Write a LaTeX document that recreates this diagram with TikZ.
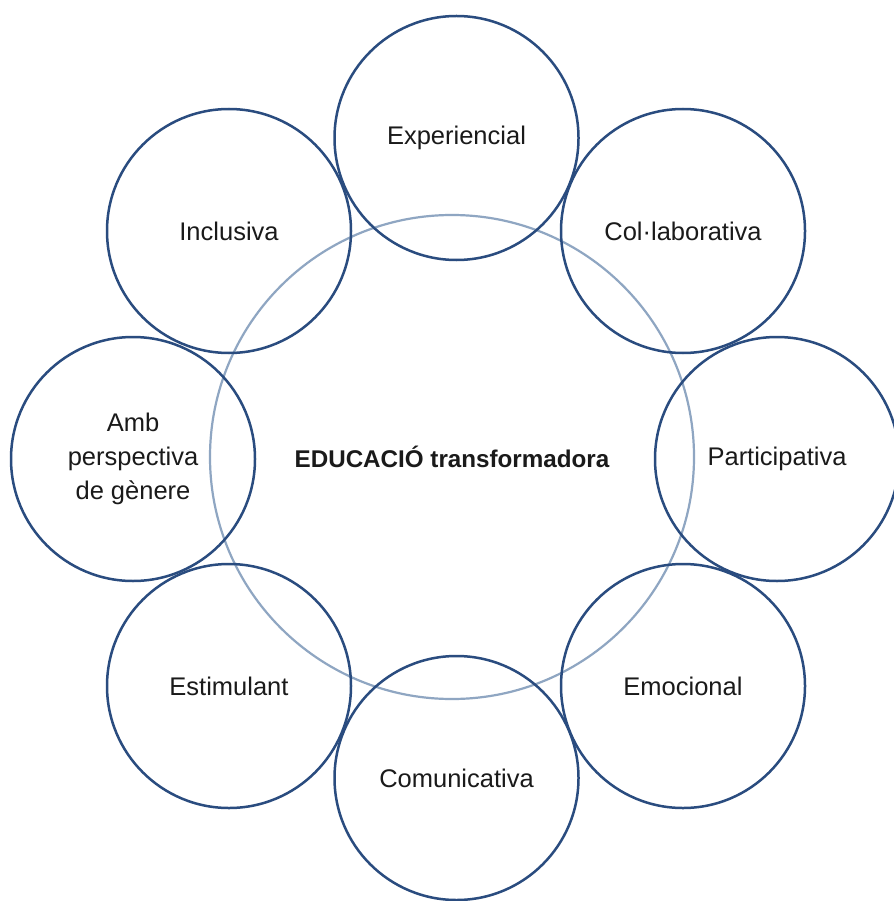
\documentclass[tikz,border=0pt]{standalone}
\usepackage{fontspec}
\setmainfont{Liberation Sans}
\definecolor{navy}{HTML}{2A4C7F}
\definecolor{pale}{HTML}{8FA6C2}
\definecolor{txt}{HTML}{1A1A1A}
\begin{document}
\begin{tikzpicture}[x=1pt,y=-1pt,
  outer/.style={circle,draw=navy,line width=2.5pt,minimum size=244pt,inner sep=0pt,
     text=txt,font=\fontsize{25.5}{34}\selectfont,align=center},
  inner/.style={circle,draw=pale,line width=2.2pt,minimum size=484pt,inner sep=0pt,
     text=txt,font=\bfseries\fontsize{24.2}{30}\selectfont}]
\useasboundingbox (0,0) rectangle (893,901);
\fill[white] (0,0) rectangle (893,901);
\node[inner] (c) at (452,457) {EDUCACIÓ transformadora};
\node[outer] (exp) at (456.5,138) {Experiencial};
\node[outer] (col) at (683,231) {Col·laborativa};
\node[outer] (par) at (777,459) {Participativa};
\node[outer] (emo) at (683,686) {Emocional};
\node[outer] (com) at (456.5,778) {Comunicativa};
\node[outer] (est) at (229,686) {Estimulant};
\node[outer] (amb) at (133,459) {Amb\\perspectiva\\de gènere};
\node[outer] (inc) at (229,231) {Inclusiva};
\end{tikzpicture}
\end{document}
